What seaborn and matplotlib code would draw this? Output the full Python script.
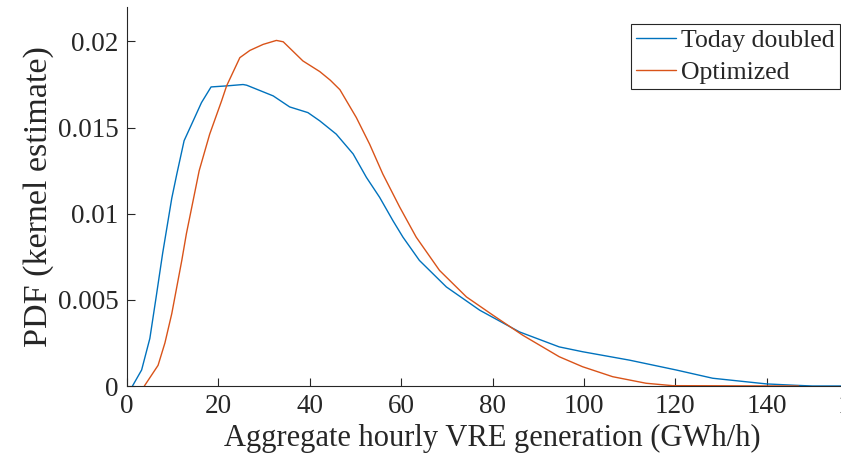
import numpy as np
import pandas as pd
import matplotlib
matplotlib.use("Agg")
import matplotlib.pyplot as plt
import seaborn as sns
from matplotlib.lines import Line2D

# Data
today_x = [1.2, 3.2, 5.0, 6.4, 7.8, 8.8, 9.8, 10.9, 12.5, 14.5, 16.3, 18.4, 21.8, 25.4, 26.2,
           32.0, 35.6, 39.6, 42.2, 45.8, 49.5, 52.4, 55.3, 58.2, 60.4, 64.0, 69.9, 77.2, 85.9,
           94.6, 99.7, 110.0, 120.2, 128.2, 140.0, 146.4, 150.0, 160.0]
today_y = [0.0, 0.00093, 0.00276, 0.0052, 0.0077, 0.0093, 0.0109, 0.0123, 0.01424, 0.0154,
           0.01645, 0.01736, 0.01742, 0.0175, 0.01746, 0.01684, 0.0162, 0.01587, 0.01539,
           0.01462, 0.01347, 0.01211, 0.01095, 0.0096, 0.00864, 0.00729, 0.00575, 0.0044,
           0.00314, 0.00227, 0.00199, 0.0015, 0.00093, 0.00045, 0.00012, 0.00004, 0.0, 0.0]
opt_x = [3.8, 6.8, 8.3, 9.8, 12.0, 13.0, 15.8, 18.1, 20.7, 21.8, 24.7, 26.9, 29.8, 32.7,
         34.2, 38.5, 42.2, 44.5, 46.6, 50.2, 53.1, 56.0, 59.7, 63.3, 68.4, 74.3, 80.1,
         86.6, 94.6, 99.7, 106.3, 113.6, 119.4, 147.0]
opt_y = [0.0, 0.0012, 0.0025, 0.0042, 0.0073, 0.00884, 0.0125, 0.01462, 0.01655, 0.01742,
         0.01906, 0.01948, 0.01983, 0.02006, 0.01998, 0.01887, 0.01825, 0.01775, 0.0172,
         0.01558, 0.01404, 0.0123, 0.01038, 0.00864, 0.00671, 0.00517, 0.00411, 0.00295,
         0.0017, 0.00112, 0.00054, 0.00016, 0.00002, 0.0]
series_names = ["Today doubled", "Optimized"]
x_ticks = [0, 20, 40, 60, 80, 100, 120, 140, 160]
y_ticks = [0, 0.005, 0.01, 0.015, 0.02]
y_tick_labels = ["0", "0.005", "0.01", "0.015", "0.02"]

df = pd.concat([
    pd.DataFrame({"x": today_x, "y": today_y, "series": series_names[0]}),
    pd.DataFrame({"x": opt_x, "y": opt_y, "series": series_names[1]}),
], ignore_index=True)

sns.set_style("ticks")
plt.rcParams["font.family"] = ["Liberation Serif", "DejaVu Serif"]

axis_color = "#262626"
colors = {"Today doubled": "#0072BD", "Optimized": "#D95319"}
fig = plt.figure(figsize=(8.41, 4.67), dpi=100)
ax = fig.add_axes([127 / 841, 1 - 386 / 467, (858 - 127) / 841, (386 - 7) / 467])

sns.lineplot(data=df, x="x", y="y", hue="series", sort=False, estimator=None,
             palette=colors, linewidth=1.0, ax=ax, legend=False)

ax.set_xlim(0, 160)
ax.set_ylim(0, 0.022)
ax.set_xticks(x_ticks)
ax.set_xticklabels([str(t) for t in x_ticks])
ax.set_yticks(y_ticks)
ax.set_yticklabels(y_tick_labels)
ax.tick_params(direction="in", length=6, width=0.8, colors=axis_color, labelsize=19.5, pad=6)
for s in ["top", "right"]:
    ax.spines[s].set_visible(False)
for s in ["left", "bottom"]:
    ax.spines[s].set_color(axis_color)
    ax.spines[s].set_linewidth(0.8)

ax.set_xlabel("Aggregate hourly VRE generation (GWh/h)", fontsize=22, color=axis_color, labelpad=3)
ax.set_ylabel("PDF (kernel estimate)", fontsize=24.5, color=axis_color, labelpad=3)

handles = [Line2D([], [], color=colors[n], lw=1.0) for n in series_names]
leg = fig.legend(handles, series_names, loc="upper right",
                 bbox_to_anchor=(840 / 841, 1 - 24 / 467), borderaxespad=0,
                 fontsize=18.5, frameon=True, fancybox=False, handlelength=1.55,
                 handletextpad=0.2, borderpad=0.2, labelspacing=0.33)
leg.get_frame().set_edgecolor(axis_color)
leg.get_frame().set_linewidth(0.8)
leg.get_frame().set_alpha(1)
for t in leg.get_texts():
    t.set_color(axis_color)

fig.savefig("out.png", dpi=100)
